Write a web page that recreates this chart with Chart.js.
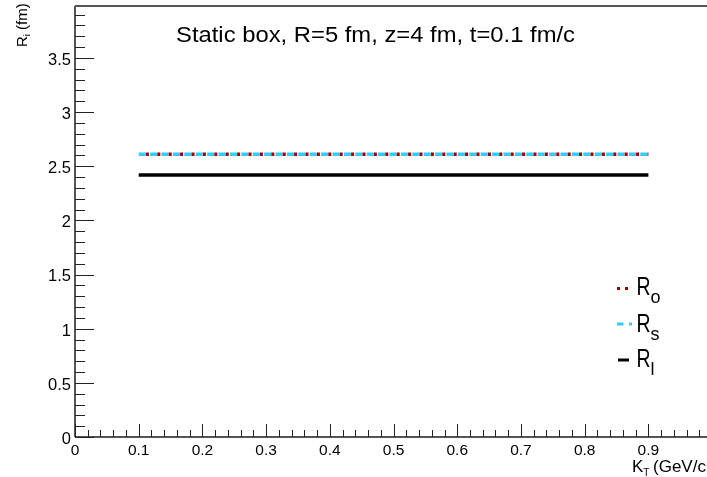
<!DOCTYPE html>
<html>
<head>
<meta charset="utf-8">
<script src="https://cdn.jsdelivr.net/npm/chart.js@4/dist/chart.umd.min.js"></script>
<style>
  html, body { margin: 0; padding: 0; background: #fff; overflow: hidden; }
  canvas { display: block; }
</style>
</head>
<body>
<canvas id="c" width="707" height="477"></canvas>
<script>
// Transverse pair momentum (GeV/c)
const kT = [0.1, 0.2, 0.3, 0.4, 0.5, 0.6, 0.7, 0.8, 0.9];
// HBT radii (fm)
const Ro = [2.61, 2.61, 2.61, 2.61, 2.61, 2.61, 2.61, 2.61, 2.61];
const Rs = [2.61, 2.61, 2.61, 2.61, 2.61, 2.61, 2.61, 2.61, 2.61];
const Rl = [2.42, 2.42, 2.42, 2.42, 2.42, 2.42, 2.42, 2.42, 2.42];

const seriesSub = ['o', 's', 'l'];
const xTickValues = [0, 0.1, 0.2, 0.3, 0.4, 0.5, 0.6, 0.7, 0.8, 0.9];
const xTickLabels = ['0', '0.1', '0.2', '0.3', '0.4', '0.5', '0.6', '0.7', '0.8', '0.9'];
const yTickValues = [0, 0.5, 1, 1.5, 2, 2.5, 3, 3.5];
const yTickLabels = ['0', '0.5', '1', '1.5', '2', '2.5', '3', '3.5'];
const titleText = 'Static box, R=5 fm, z=4 fm, t=0.1 fm/c';

const FONT = "'Liberation Sans', Arial, Helvetica, sans-serif";
const pts = (ys) => kT.map((x, i) => ({ x: x, y: ys[i] }));

const frame = {
  id: 'rootFrame',
  beforeDraw(chart) {
    const ctx = chart.ctx;
    ctx.save();
    ctx.fillStyle = '#fff';
    ctx.fillRect(0, 0, chart.width, chart.height);
    ctx.restore();
  },
  afterDraw(chart) {
    const ctx = chart.ctx;
    const a = chart.chartArea;
    const xs = chart.scales.x, ys = chart.scales.y;
    ctx.save();

    // frame: top, left and bottom axis lines
    ctx.strokeStyle = '#555';
    ctx.lineWidth = 2;
    ctx.beginPath();
    ctx.moveTo(a.left, a.top); ctx.lineTo(a.right, a.top);
    ctx.moveTo(a.left, a.top); ctx.lineTo(a.left, a.bottom);
    ctx.moveTo(a.left, a.bottom); ctx.lineTo(a.right, a.bottom);
    ctx.stroke();

    // ticks
    ctx.strokeStyle = '#222';
    ctx.lineWidth = 1;
    ctx.beginPath();
    for (let i = 0; i <= 39; i++) {
      const v = i / 10;
      const py = Math.round(ys.getPixelForValue(v)) + 0.5;
      const len = (i % 5 === 0) ? 19 : 10;
      ctx.moveTo(a.left, py); ctx.lineTo(a.left + len, py);
    }
    for (let i = 0; i <= 49; i++) {
      const v = i * 0.02;
      const px = Math.round(xs.getPixelForValue(v)) + 0.5;
      const len = (i % 5 === 0) ? 13 : 7;
      ctx.moveTo(px, a.bottom); ctx.lineTo(px, a.bottom - len);
    }
    ctx.stroke();

    // tick labels
    ctx.fillStyle = '#000';
    ctx.font = '16.5px ' + FONT;
    ctx.textAlign = 'right';
    ctx.textBaseline = 'alphabetic';
    yTickValues.forEach((v, i) => {
      ctx.fillText(yTickLabels[i], 71, ys.getPixelForValue(v) + 6.8);
    });
    ctx.font = '15.5px ' + FONT;
    ctx.textAlign = 'center';
    xTickValues.forEach((v, i) => {
      ctx.fillText(xTickLabels[i], xs.getPixelForValue(v), 455);
    });

    // x axis title
    ctx.textAlign = 'left';
    ctx.font = '17px ' + FONT;
    ctx.fillText('K', 632, 471.5);
    let kw = ctx.measureText('K').width;
    ctx.font = '10px ' + FONT;
    ctx.fillText('T', 632 + kw, 475.5);
    ctx.font = '17px ' + FONT;
    ctx.fillText('(GeV/c', 653, 471.5);

    // y axis title
    ctx.save();
    ctx.translate(27, 47);
    ctx.rotate(-Math.PI / 2);
    ctx.font = '15px ' + FONT;
    ctx.fillText('R', 0, 0);
    let rw = ctx.measureText('R').width;
    ctx.font = '9px ' + FONT;
    ctx.fillText('i', rw, 3);
    let iw = ctx.measureText('i').width;
    ctx.font = '15px ' + FONT;
    ctx.fillText(' (fm)', rw + iw, 0);
    ctx.restore();

    // title
    ctx.font = '22px ' + FONT;
    const tw = ctx.measureText(titleText).width;
    ctx.save();
    ctx.translate(176, 41.5);
    ctx.scale(399 / tw, 1);
    ctx.fillText(titleText, 0, 0);
    ctx.restore();

    // legend
    const ds = chart.data.datasets;
    const base = [295, 332, 367];
    ctx.fillStyle = ds[0].borderColor;
    ctx.fillRect(617, 287, 3, 3);
    ctx.fillRect(625, 287, 3, 3);
    ctx.fillStyle = ds[1].borderColor;
    ctx.fillRect(617, 322.5, 6.5, 3);
    ctx.fillRect(629, 322.5, 3, 3);
    ctx.fillStyle = ds[2].borderColor;
    ctx.fillRect(618, 358.5, 11, 3);
    ctx.fillStyle = '#000';
    seriesSub.forEach((s, i) => {
      ctx.font = '25px ' + FONT;
      ctx.save();
      ctx.translate(636.5, base[i]);
      ctx.scale(0.78, 1);
      ctx.fillText('R', 0, 0);
      ctx.restore();
      const w = ctx.measureText('R').width * 0.78;
      ctx.font = '18px ' + FONT;
      ctx.fillText(s, 636.5 + w, base[i] + 7.5);
    });

    ctx.restore();
  }
};

new Chart(document.getElementById('c'), {
  type: 'line',
  data: {
    datasets: [
      { label: 'Ro', data: pts(Ro), borderColor: '#a00000', borderWidth: 3.5,
        borderDash: [3, 8.4], borderDashOffset: 4.2, borderCapStyle: 'butt',
        pointRadius: 0, tension: 0, fill: false },
      { label: 'Rs', data: pts(Rs), borderColor: '#33ccff', borderWidth: 3.5,
        borderDash: [7, 4.4], borderCapStyle: 'butt', pointRadius: 0, tension: 0, fill: false },
      { label: 'Rl', data: pts(Rl), borderColor: '#000000', borderWidth: 3.5,
        borderCapStyle: 'butt', pointRadius: 0, tension: 0, fill: false }
    ]
  },
  options: {
    responsive: false,
    animation: false,
    devicePixelRatio: 1,
    layout: { padding: { left: 75, top: 6, right: 0, bottom: 40 } },
    plugins: { legend: { display: false }, tooltip: { enabled: false }, title: { display: false } },
    scales: {
      x: { type: 'linear', min: 0, max: 0.992, display: false },
      y: { type: 'linear', min: 0, max: 3.98, display: false }
    }
  },
  plugins: [frame]
});
</script>
</body>
</html>
